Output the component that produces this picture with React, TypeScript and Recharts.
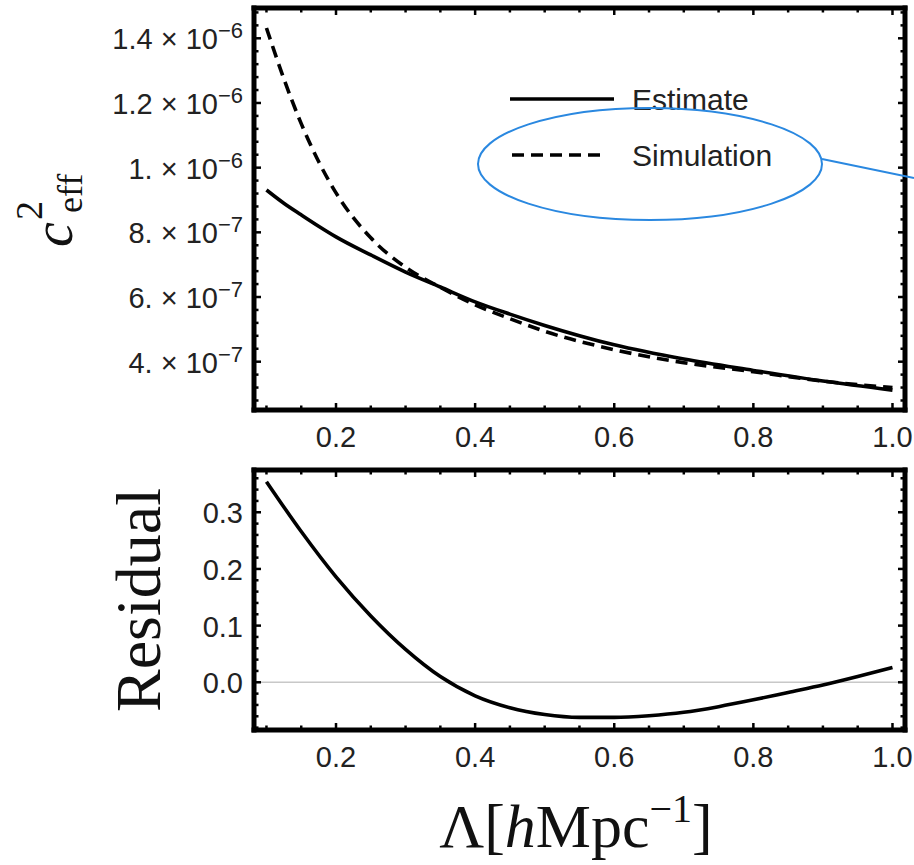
import { Legend, Line, LineChart, ReferenceLine, XAxis, YAxis } from 'recharts';

// Λ grid and values (c²_eff)
const lambdaTop = [0.1, 0.125, 0.15, 0.175, 0.2, 0.25, 0.3, 0.35, 0.4, 0.45, 0.5, 0.6, 0.7, 0.8, 0.9, 1.0];
const estimate = [9.31e-7, 8.9e-7, 8.54e-7, 8.19e-7, 7.86e-7, 7.3e-7, 6.77e-7, 6.31e-7, 5.85e-7, 5.47e-7, 5.12e-7, 4.52e-7, 4.08e-7, 3.73e-7, 3.4e-7, 3.12e-7];
const simulation = [1.432e-6, 1.275e-6, 1.136e-6, 1.019e-6, 9.22e-7, 7.83e-7, 6.92e-7, 6.3e-7, 5.76e-7, 5.33e-7, 4.94e-7, 4.37e-7, 3.97e-7, 3.69e-7, 3.4e-7, 3.2e-7];

// lower panel
const lambdaRes = [0.1, 0.15, 0.2, 0.25, 0.3, 0.35, 0.4, 0.45, 0.5, 0.55, 0.6, 0.65, 0.7, 0.75, 0.8, 0.85, 0.9, 0.95, 1.0];
const residual = [0.354, 0.266, 0.186, 0.117, 0.058, 0.01, -0.024, -0.045, -0.057, -0.062, -0.062, -0.059, -0.053, -0.043, -0.031, -0.018, -0.005, 0.01, 0.026];

// ticks (major ones get a label, minor ones only a short mark)
const xMajor = [0.2, 0.4, 0.6, 0.8, 1.0];
const xMinor = Array.from({ length: 19 }, (_, i) => +(0.1 + 0.05 * i).toFixed(2));
const topYMajor = [4e-7, 6e-7, 8e-7, 1e-6, 1.2e-6, 1.4e-6];
const topYMinor = Array.from({ length: 31 }, (_, i) => +((2.8 + 0.4 * i) * 1e-7).toPrecision(4));
const resYMajor = [0, 0.1, 0.2, 0.3];
const resYMinor = Array.from({ length: 23 }, (_, i) => +(-0.08 + 0.02 * i).toFixed(2));

const xDomain = [0.0821, 1.018];
const topYDomain = [2.506e-7, 1.4937e-6];
const resYDomain = [-0.0842, 0.3746];

const seriesNames = ['Estimate', 'Simulation'];

const SANS = '"Liberation Sans", Arial, sans-serif';
const SERIF = '"Liberation Serif", "Times New Roman", serif';
const INK = '#222';
const MAJOR_LEN = 7;
const MINOR_LEN = 4.5;

const topData = lambdaTop.map((x, i) => ({ x, est: estimate[i], sim: simulation[i] }));
const resData = lambdaRes.map((x, i) => ({ x, res: residual[i] }));

const frameLine = { stroke: '#000', strokeWidth: 5, strokeLinecap: 'square' as const };

const isMajor = (v: number, majors: number[]) => majors.some((m) => Math.abs(m - v) < Math.abs(m) * 1e-6 + 1e-9);
const merge = (major: number[], minor: number[]) => [...minor.filter((v) => !isMajor(v, major)), ...major];

const fmtPlain = (v: number) => v.toFixed(1);

const SciLabel = ({ v }: { v: number }) => {
  const exp = Math.floor(Math.log10(v) + 1e-9);
  const m = Math.round((v / Math.pow(10, exp)) * 10) / 10;
  const mant = Number.isInteger(m) ? `${m}.` : `${m}`;
  return (
    <>
      {`${mant} × 10`}
      <tspan dy={-11} fontSize={22}>{`−${-exp}`}</tspan>
    </>
  );
};

// one tick renderer for each side: draws the inward mark and, on bottom/left, the label
const makeTick = (side: 'bottom' | 'top' | 'left' | 'right', majors: number[], sci = false) => (props: any) => {
  const v = Number(props.payload.value);
  const major = isMajor(v, majors);
  const len = major ? MAJOR_LEN : MINOR_LEN;
  const { x, y } = props;
  let mark;
  if (side === 'bottom') mark = <line x1={x} x2={x} y1={y} y2={y - len} />;
  else if (side === 'top') mark = <line x1={x} x2={x} y1={y} y2={y + len} />;
  else if (side === 'left') mark = <line x1={x} x2={x + len} y1={y} y2={y} />;
  else mark = <line x1={x} x2={x - len} y1={y} y2={y} />;
  let label = null;
  if (major && side === 'bottom') {
    label = (
      <text x={x} y={y + 37} textAnchor="middle" fontFamily={SANS} fontSize={29} fill={INK} stroke="none">
        {fmtPlain(v)}
      </text>
    );
  } else if (major && side === 'left') {
    label = (
      <text x={x - 11} y={y + 11} textAnchor="end" fontFamily={SANS} fontSize={29} fill={INK} stroke="none">
        {sci ? <SciLabel v={v} /> : fmtPlain(v)}
      </text>
    );
  }
  return (
    <g stroke="#000" strokeWidth={2.5}>
      {mark}
      {label}
    </g>
  );
};

function frameAxes(yDomain: number[], yMajor: number[], yMinor: number[], sci: boolean, yLabel: any, xLabel?: any) {
  const xTicks = merge(xMajor, xMinor);
  const yTicks = merge(yMajor, yMinor);
  const common = { interval: 0 as const, tickSize: 0, tickMargin: 0, tickLine: false, axisLine: frameLine, allowDataOverflow: true };
  return [
    <XAxis key="x" xAxisId="x" type="number" dataKey="x" domain={xDomain} ticks={xTicks} height={1}
      tick={makeTick('bottom', xMajor)} label={xLabel} {...common} />,
    <XAxis key="xt" xAxisId="xt" orientation="top" type="number" dataKey="x" domain={xDomain} ticks={xTicks} height={1}
      tick={makeTick('top', xMajor)} {...common} />,
    <YAxis key="y" yAxisId="y" type="number" domain={yDomain} ticks={yTicks} width={1}
      tick={makeTick('left', yMajor, sci)} label={yLabel} {...common} />,
    <YAxis key="yr" yAxisId="yr" orientation="right" type="number" domain={yDomain} ticks={yTicks} width={1}
      tick={makeTick('right', yMajor)} {...common} />,
  ];
}

const CeffTitle = () => (
  <g transform="translate(72, 247) rotate(-90)" fontFamily={SERIF} fill="#111">
    <text x={0} y={0} fontSize={56} fontStyle="italic">c</text>
    <text x={27} y={-30} fontSize={38}>2</text>
    <text x={34} y={10} fontSize={36}>eff</text>
  </g>
);

const ResidualTitle = () => (
  <text transform="translate(160, 160) rotate(-90)" textAnchor="middle" fontFamily={SERIF} fontSize={64} fill="#111">
    Residual
  </text>
);

const LambdaTitle = () => (
  <text x={576} y={407} textAnchor="middle" fontFamily={SERIF} fontSize={62} fill="#111">
    Λ[<tspan fontStyle="italic">h</tspan>Mpc
    <tspan dy={-25} fontSize={40}>−1</tspan>
    <tspan dy={25}>]</tspan>
  </text>
);

const LegendBox = ({ payload }: any) => {
  const items = payload && payload.length ? payload : seriesNames.map((value) => ({ value }));
  return (
    <svg width={300} height={110} style={{ overflow: 'visible' }}>
      {items.map((entry: any, i: number) => {
        const dashed = i === 1;
        const cy = i === 0 ? 24 : 80;
        return (
          <g key={entry.value}>
            <line x1={dashed ? 7 : 5} x2={dashed ? 102 : 109} y1={cy} y2={cy} stroke="#000" strokeWidth={3.6}
              strokeDasharray={dashed ? '12 7' : undefined} />
            <text x={127} y={cy + 11} fontFamily={SANS} fontSize={30} fill={INK}>{entry.value}</text>
          </g>
        );
      })}
    </svg>
  );
};

export default function App() {
  return (
    <div style={{ position: 'absolute', left: 0, top: 0, width: 914, height: 865, background: '#fff' }}>
      <div style={{ position: 'absolute', left: 0, top: 0 }}>
        <LineChart width={914} height={460} data={topData} margin={{ top: 7, right: 8, bottom: 49, left: 253 }}>
          {frameAxes(topYDomain, topYMajor, topYMinor, true, { content: () => <CeffTitle /> })}
          <Legend layout="horizontal" verticalAlign="middle" align="center" content={<LegendBox />}
            wrapperStyle={{ left: 505, top: 75, width: 300, height: 110 }} />
          <Line xAxisId="x" yAxisId="y" type="monotone" dataKey="est" name={seriesNames[0]} stroke="#000" strokeWidth={3.6}
            dot={false} isAnimationActive={false} />
          <Line xAxisId="x" yAxisId="y" type="monotone" dataKey="sim" name={seriesNames[1]} stroke="#000" strokeWidth={3.6}
            strokeDasharray="12 7" dot={false} isAnimationActive={false} />
        </LineChart>
      </div>
      <div style={{ position: 'absolute', left: 0, top: 440 }}>
        <LineChart width={914} height={425} data={resData} margin={{ top: 29, right: 8, bottom: 134, left: 253 }}>
          {frameAxes(resYDomain, resYMajor, resYMinor, false, { content: () => <ResidualTitle /> }, { content: () => <LambdaTitle /> })}
          <ReferenceLine xAxisId="x" yAxisId="y" y={0} stroke="#c8c8c8" strokeWidth={1.5} />
          <Line xAxisId="x" yAxisId="y" type="monotone" dataKey="res" stroke="#000" strokeWidth={3.6}
            dot={false} isAnimationActive={false} />
        </LineChart>
      </div>
      <svg width={914} height={865} style={{ position: 'absolute', left: 0, top: 0, pointerEvents: 'none' }}>
        <ellipse cx={650} cy={164} rx={172} ry={56} fill="none" stroke="#2a88e0" strokeWidth={2} />
        <line x1={822} y1={159} x2={914} y2={178} stroke="#2a88e0" strokeWidth={2} />
      </svg>
    </div>
  );
}
